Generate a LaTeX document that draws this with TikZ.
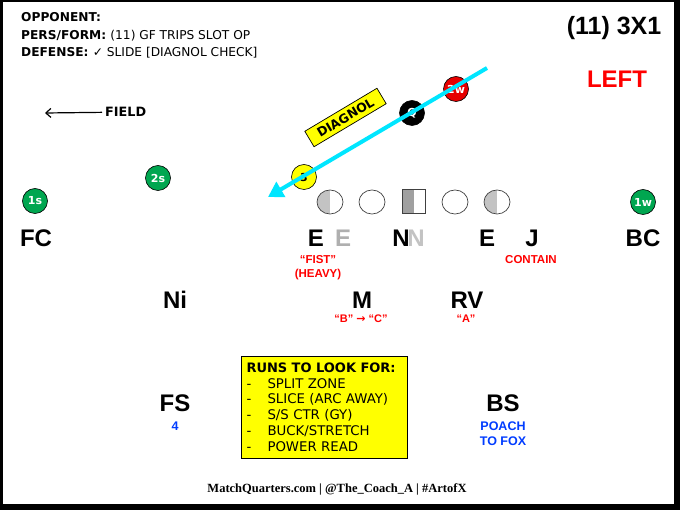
\documentclass[tikz,border=0pt]{standalone}
\usepackage{fontspec}
\setmainfont{DejaVu Sans}
\newfontfamily\arl{Liberation Sans}
\newfontfamily\ser{Liberation Serif}
\usetikzlibrary{arrows.meta,shapes.geometric}
\definecolor{pgreen}{RGB}{0,166,80}
\definecolor{pred}{RGB}{230,0,0}
\definecolor{tred}{RGB}{255,0,0}
\definecolor{pcyan}{RGB}{0,230,255}
\definecolor{pyellow}{RGB}{255,255,0}
\definecolor{tblue}{RGB}{0,60,255}
\definecolor{lgray}{RGB}{195,195,195}
\definecolor{sgray}{RGB}{160,160,160}
\definecolor{egray}{RGB}{175,175,175}
\begin{document}
\begin{tikzpicture}[x=1pt,y=-1pt,
  hdr/.style={anchor=base west, inner sep=0pt, font=\fontsize{12.2}{14}\selectfont},
  player/.style={circle, draw=black, line width=0.6pt, minimum size=25pt, inner sep=0pt,
    text=white, font=\bfseries\fontsize{11}{11}\selectfont},
  olcirc/.style={ellipse, draw=black!75, line width=0.7pt, minimum width=26pt, minimum height=24pt, inner sep=0pt, fill=white},
  halfshade/.style={path picture={\fill[#1] (path picture bounding box.south west) rectangle (path picture bounding box.north);}},
  big/.style={anchor=base, inner sep=0pt, font=\arl\bfseries\fontsize{24}{26}\selectfont},
  rednote/.style={anchor=base, inner sep=0pt, text=tred, font=\arl\bfseries\fontsize{11.5}{13}\selectfont},
  bluenote/.style={anchor=base, inner sep=0pt, text=tblue, font=\arl\bfseries\fontsize{12.5}{14}\selectfont},
  runbox/.style={draw=black, line width=0.7pt, fill=pyellow, align=left, text width=155pt,
    inner xsep=5.5pt, minimum height=102pt, font=\fontsize{13.3}{15.8}\selectfont}
]
\useasboundingbox (0,0) rectangle (680,510);
% frame
\fill[black] (0,0) rectangle (680,510);
\fill[white] (2.5,2) rectangle (674,504);

% header
\node[hdr] (opp) at (21,21.2) {\bfseries OPPONENT:};
\node[hdr] (pers) at (21,39.2) {\bfseries PERS/FORM: \mdseries(11) GF TRIPS SLOT OP};
\node[hdr] (def) at (21,56.2) {\bfseries DEFENSE: \mdseries ✓ SLIDE [DIAGNOL CHECK]};
\node[anchor=base, inner sep=0pt, font=\arl\bfseries\fontsize{25}{28}\selectfont] (form) at (614,35) {(11) 3X1};
\node[anchor=base, inner sep=0pt, text=tred, font=\arl\bfseries\fontsize{24}{28}\selectfont] (left) at (617,88) {LEFT};

% field arrow
\node[anchor=base west, inner sep=0pt, font=\bfseries\fontsize{12.8}{14}\selectfont] (field) at (105,117) {FIELD};
\coordinate (ftip) at (45,113);
\draw[line width=1.2pt, -{Straight Barb[length=5pt,width=9pt]}] (field.west) ++(-3,0) -- (ftip);

% diagnol box
\node[draw=black, line width=0.7pt, fill=pyellow, rotate=30.8, minimum width=84pt, minimum height=18pt, inner sep=0pt,
  font=\bfseries\fontsize{12.5}{13}\selectfont] (diag) at (345.5,117.5) {DIAGNOL};

% offense skill players
\node[player, fill=pgreen] (s1) at (35,201) {1s};
\node[player, fill=pgreen] (s2) at (158,178) {2s};
\node[player, fill=pgreen] (w1) at (643,202) {1w};
\node[player, fill=pred] (w2) at (456,89) {2w};
\node[player, fill=black] (q) at (412,113) {Q};
\node[player, fill=pyellow, text=black] (three) at (304,177) {3};

% offensive line
\node[olcirc, halfshade=lgray] (ol1) at (330,202) {};
\node[olcirc] (ol2) at (372,202) {};
\node[draw=black!75, line width=0.7pt, minimum size=23.5pt, inner sep=0pt, fill=white, halfshade=sgray] (ol3) at (414,201.5) {};
\node[olcirc] (ol4) at (455,202) {};
\node[olcirc, halfshade=lgray] (ol5) at (497,202) {};

% cyan diagonal arrow
\coordinate (as) at (487,68);
\coordinate (ae) at (268,197);
\draw[pcyan, line width=4pt, -{Triangle[length=15pt,width=17pt]}] (as) -- (ae);

% defense row 1
\node[big] (fc) at (36,247) {FC};
\node[big, text=egray] (e2) at (343,247) {E};
\node[big] (e1) at (316,247) {E};
\node[big, text=lgray] (n2) at (416,247) {N};
\node[big] (n1) at (401,247) {N};
\node[big] (e3) at (487,247) {E};
\node[big] (j) at (532,247) {J};
\node[big] (bc) at (643,247) {BC};
\node[rednote] (fist) at (318,263.5) {“FIST”};
\node[rednote] (heavy) at (318,277.5) {(HEAVY)};
\node[rednote] (contain) at (531,263.5) {CONTAIN};

% defense row 2
\node[big] (ni) at (175,308.5) {Ni};
\node[big] (m) at (362,308.5) {M};
\node[big] (rv) at (467,308.5) {RV};
\node[rednote, font=\arl\bfseries\fontsize{11}{12}\selectfont] (bc2) at (361,323) {“B” {\fontspec{DejaVu Sans}\bfseries →} “C”};
\node[rednote, font=\arl\bfseries\fontsize{11}{12}\selectfont] (a) at (466,323) {“A”};

% defense row 3
\node[big] (fs) at (175,412) {FS};
\node[bluenote] (four) at (175,430) {4};
\node[big] (bs) at (503,412) {BS};
\node[bluenote] (poach) at (503,430) {POACH};
\node[bluenote] (fox) at (503,445) {TO FOX};

% runs box
\node[runbox] (runs) at (324,407) {{\bfseries\fontsize{13}{15.8}\selectfont RUNS TO LOOK FOR:}\\
\makebox[21pt][l]{-}SPLIT ZONE\\
\makebox[21pt][l]{-}SLICE (ARC AWAY)\\
\makebox[21pt][l]{-}S/S CTR (GY)\\
\makebox[21pt][l]{-}BUCK/STRETCH\\
\makebox[21pt][l]{-}POWER READ};

% footer
\node[anchor=base, inner sep=0pt, font=\ser\bfseries\fontsize{12.5}{14}\selectfont] (foot) at (337,492)
  {MatchQuarters.com | @The\_Coach\_A | \#ArtofX};
\end{tikzpicture}
\end{document}
